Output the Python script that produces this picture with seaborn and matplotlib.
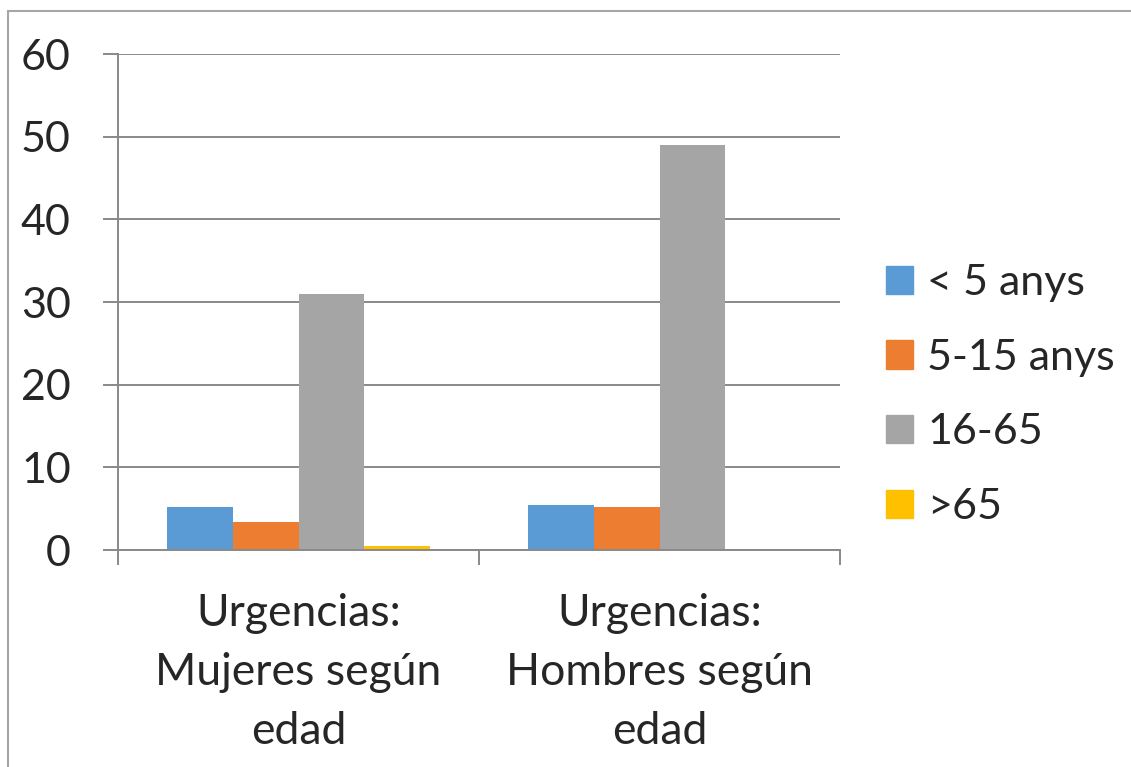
import pandas as pd
import matplotlib.pyplot as plt
import matplotlib.patches as mpatches
import seaborn as sns

sns.set_theme(style='white')
plt.rcParams['font.family'] = ['Lato', 'DejaVu Sans']

# data
categories = ['Urgencias:\nMujeres según\nedad', 'Urgencias:\nHombres según\nedad']
age_groups = ['< 5 anys', '5-15 anys', '16-65', '>65']
mujeres = [5.2, 3.4, 31, 0.5]
hombres = [5.4, 5.2, 49, 0]
colors = ['#5B9BD5', '#ED7D31', '#A5A5A5', '#FFC000']

df = pd.DataFrame({
    'cat': [categories[0]] * 4 + [categories[1]] * 4,
    'grupo': age_groups * 2,
    'valor': mujeres + hombres,
})

fig = plt.figure(figsize=(11.31, 7.67), dpi=100)
ax = fig.add_axes([118 / 1131, 1 - 550 / 767, (840 - 118) / 1131, (550 - 54) / 767])

sns.barplot(data=df, x='cat', y='valor', hue='grupo', hue_order=age_groups,
            palette=colors, width=0.73, gap=0, linewidth=0, saturation=1, ax=ax)

grid_c = '#898989'
ax.set_ylim(0, 60)
ax.set_yticks(range(0, 61, 10))
ax.set_xlim(-0.5, 1.5)
ax.yaxis.grid(True, color=grid_c, linewidth=1.4)
ax.set_axisbelow(True)
for s in ['top', 'right']:
    ax.spines[s].set_visible(False)
for s in ['left', 'bottom']:
    ax.spines[s].set_color(grid_c)
    ax.spines[s].set_linewidth(1.4)

ax.set_xlabel('')
ax.set_ylabel('')
ax.tick_params(axis='y', length=11, width=1.4, color=grid_c, pad=23, labelsize=31, direction='out', left=True)
ax.set_xticks([0, 1])
ax.set_xticklabels(categories, fontsize=32, linespacing=1.55)
ax.tick_params(axis='x', length=0, pad=31)
ax.set_xticks([-0.5, 0.5, 1.5], minor=True)
ax.tick_params(axis='x', which='minor', length=11, width=1.4, color=grid_c, bottom=True, direction='out')

# legend
handles = [mpatches.Patch(color=c, label=l) for c, l in zip(colors, age_groups)]
if ax.get_legend():
    ax.get_legend().remove()
fig.legend(handles=handles, loc='center left', bbox_to_anchor=(886 / 1131, 1 - 395 / 767),
           frameon=False, fontsize=31, handlelength=0.63, handleheight=0.63,
           labelspacing=0.85, handletextpad=0.33, borderpad=0, borderaxespad=0)

# outer chart border
fig.patches.append(mpatches.Rectangle((8 / 1131, -0.1), 1.2, 1 - 11 / 767 + 0.1,
                                      transform=fig.transFigure, fill=False,
                                      edgecolor='#A6A6A6', linewidth=1.5))

fig.savefig('out.png', dpi=100)
